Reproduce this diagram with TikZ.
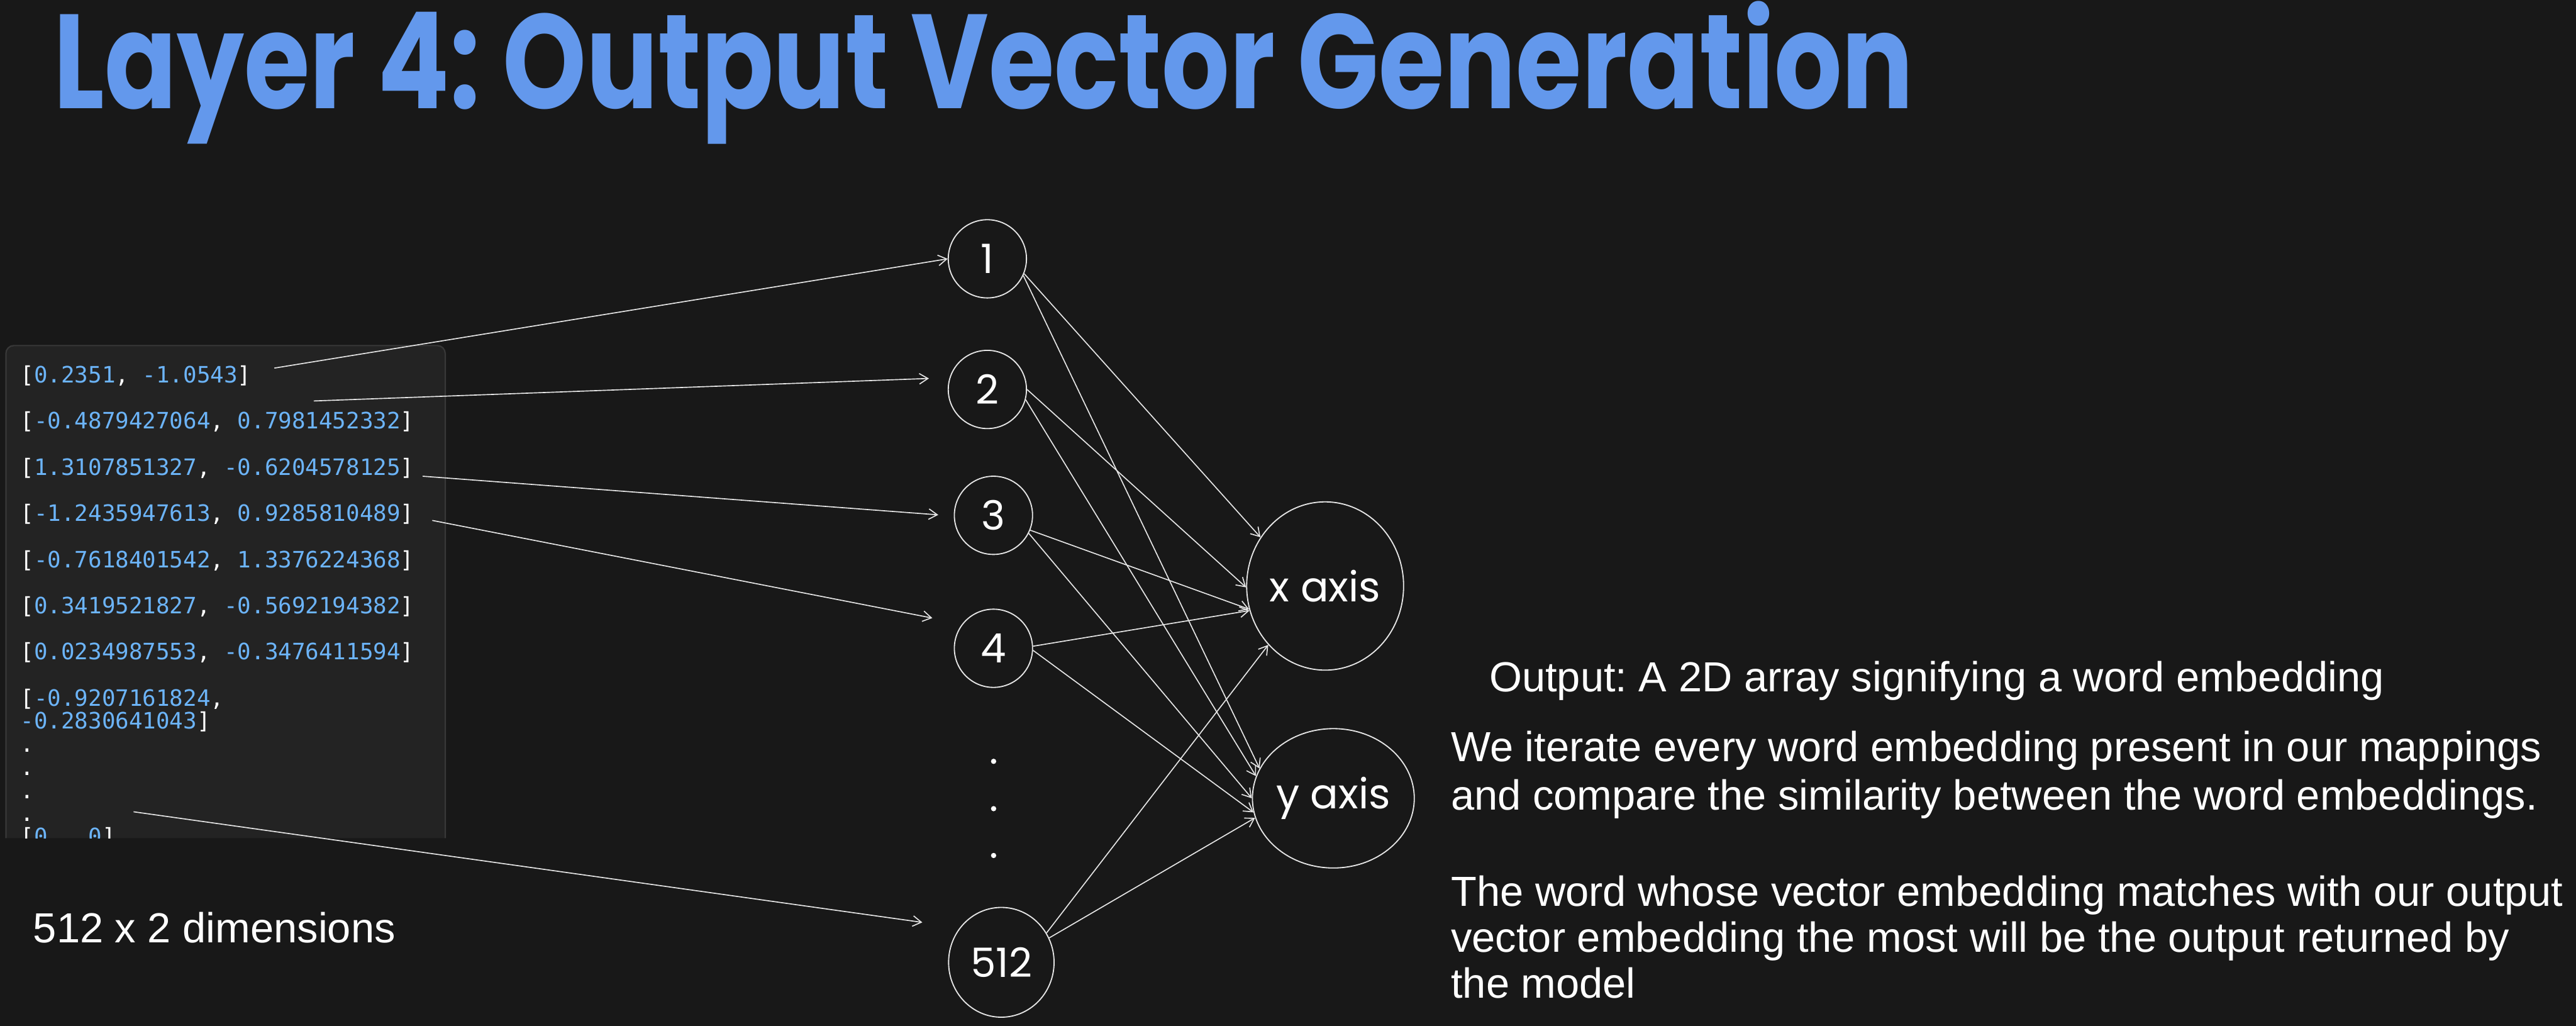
\documentclass[tikz,border=0pt]{standalone}
\usepackage{fontspec}
\setmainfont{Liberation Sans}
\newfontfamily\handfont{Poppins}
\newfontfamily\monofont{DejaVu Sans Mono}
\usetikzlibrary{positioning,shapes.geometric,arrows.meta}
\definecolor{bg}{HTML}{181818}
\definecolor{boxfill}{HTML}{232323}
\definecolor{boxline}{HTML}{383838}
\definecolor{titleblue}{HTML}{6398EC}
\definecolor{numblue}{HTML}{6CB4F8}
\definecolor{edge}{HTML}{E6E6E6}
\newcommand{\nm}[1]{\textcolor{numblue}{#1}}
\frenchspacing

\begin{document}
\begin{tikzpicture}[x=0.25mm, y=-0.25mm,
  unit/.style={circle, draw=edge, line width=0.5pt, text=white, inner sep=0pt,
    minimum size=11.9mm, font=\handfont\fontsize{17.5}{20}\selectfont},
  axisnode/.style={ellipse, draw=edge, line width=0.5pt, text=white, inner sep=0pt,
    font=\handfont\fontsize{18}{20}\selectfont},
  conn/.style={draw=edge, line width=0.45pt, -{Straight Barb[length=1.3mm,width=1.6mm]}},
  codeline/.style={anchor=base west, inner sep=0pt, text=white,
    font=\monofont\fontsize{9.76}{11}\selectfont},
  body/.style={anchor=base west, inner sep=0pt, text=white,
    font=\fontsize{18.2}{20.2}\selectfont}]

  % page and background
  \fill[bg] (0,0) rectangle (1568,624.3);
  \useasboundingbox (0,0) rectangle (1568,624.3);

  % title
  \node[anchor=base west, inner sep=0pt, text=titleblue,
    font=\handfont\bfseries\fontsize{58}{60}\selectfont] (title) at (32.5,66.2)
    {\resizebox{283mm}{\height}{Layer 4: Output Vector Generation}};

  % code box with the vectors (cut off at the bottom)
  \filldraw[fill=boxfill, draw=boxline, line width=0.6pt, rounded corners=1.2mm]
    (3.6,510) |- (137,210.3) -| (271,510);
  \foreach \m/\txt in {
      0/{[\nm{0.2351}, \nm{-1.0543}]},
      2/{[\nm{-0.4879427064}, \nm{0.7981452332}]},
      4/{[\nm{1.3107851327}, \nm{-0.6204578125}]},
      6/{[\nm{-1.2435947613}, \nm{0.9285810489}]},
      8/{[\nm{-0.7618401542}, \nm{1.3376224368}]},
      10/{[\nm{0.3419521827}, \nm{-0.5692194382}]},
      12/{[\nm{0.0234987553}, \nm{-0.3476411594}]},
      14/{[\nm{-0.9207161824},},
      15/{\nm{-0.2830641043}]},
      16/{.}, 17/{.}, 18/{.}, 19/{.}}
    \node[codeline] at (12.2,{232.9+14.05*\m}) {\txt};
  \begin{scope}
    \clip (0,200) rectangle (280,510);
    \node[codeline] (lastrow) at (12.2,513.9) {[\nm{0} . \nm{0}]};
  \end{scope}
  \node[body] (dims) at (20,573.6) {512 x 2 dimensions};

  % output layer units
  \node[unit] (n1) at (601,157.5) {1};
  \node[unit] (n2) at (601,237) {2};
  \node[unit] (n3) at (604.7,313.6) {3};
  \node[unit] (n4) at (604.7,394.5) {4};
  \node[unit, ellipse, minimum width=16.05mm, minimum height=16.7mm] (n512) at (609.5,585.6) {512};
  \foreach \y in {463.3,492.1,520.6}
    \fill[white] (604.8,\y) circle (1.6);

  % axis nodes
  \node[axisnode, minimum width=23.5mm, minimum height=25.6mm] (xax) at (806.6,356.6) {x axis};
  \node[axisnode, minimum width=21mm, minimum height=21.2mm] (yax) at (811.6,485.8) {y axis};

  % vectors into units
  \coordinate (s1) at (167,224);   \coordinate (s2) at (191,244);
  \coordinate (s3) at (257.3,289.8); \coordinate (s4) at (263.1,316.7);
  \coordinate (s5) at (81.3,494);
  \coordinate (t2) at (565.4,230.3); \coordinate (t3) at (571.1,313.3);
  \coordinate (t4) at (567.5,376.1); \coordinate (t5) at (561.4,561.3);
  \draw[conn] (s1) -- (n1.west);
  \draw[conn] (s2) -- (t2);
  \draw[conn] (s3) -- (t3);
  \draw[conn] (s4) -- (t4);
  \draw[conn] (s5) -- (t5);

  % units into x axis and y axis
  \foreach \u/\a/\b/\c/\d in {n1/-22/143/-25/158, n2/0/181/-15/164, n3/-22/197/-27/180,
      n4/3/198/-3/190, n512/33/226/27/194} {
    \draw[conn] (\u.\a) -- (xax.\b);
    \draw[conn] (\u.\c) -- (yax.\d);
  }

  % explanation text
  \node[body] (outtxt) at (906.3,421) {Output: A 2D array signifying a word embedding};
  \node[body] (iter1) at (883,463.5) {We iterate every word embedding present in our mappings};
  \node[body] (iter2) at (883,493) {and compare the similarity between the word embeddings.};
  \node[body] (match1) at (883,551.3) {The word whose vector embedding matches with our output};
  \node[body] (match2) at (883,579.3) {vector embedding the most will be the output returned by};
  \node[body] (match3) at (883,607.4) {the model};
\end{tikzpicture}
\end{document}
